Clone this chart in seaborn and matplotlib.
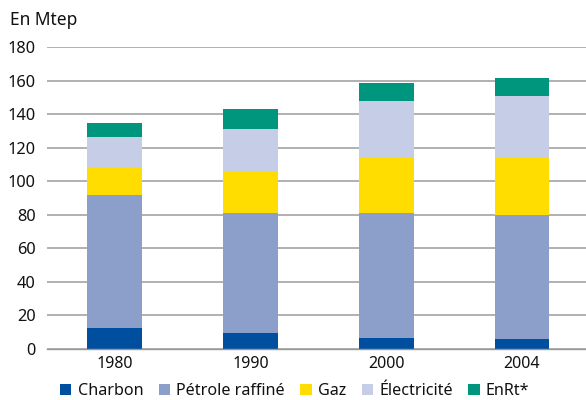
import matplotlib
matplotlib.use("Agg")
import matplotlib.pyplot as plt
import seaborn as sns
import pandas as pd
import numpy as np
from matplotlib.patches import Patch

years = ["1980", "1990", "2000", "2004"]
charbon = [12.6, 9.4, 6.6, 6.0]
petrole = [79.2, 71.6, 74.2, 73.8]
gaz = [16.0, 24.4, 33.0, 34.8]
electricite = [18.8, 25.8, 34.2, 36.4]
enrt = [8.2, 12.0, 10.8, 10.8]

series_names = ["Charbon", "Pétrole raffiné", "Gaz", "Électricité", "EnRt*"]
series_vals = [charbon, petrole, gaz, electricite, enrt]
colors = ["#004f9f", "#8c9fcb", "#ffdd00", "#c5cee6", "#00957d"]

sns.set_theme(style="white")
plt.rcParams["font.family"] = ["Noto Sans", "DejaVu Sans"]

fig = plt.figure(figsize=(5.86, 4.0), dpi=100)
ax = fig.add_axes([46.7 / 586, 1 - 349 / 400, 1 - 46.7 / 586, (349 - 47) / 400])

cum = np.cumsum(np.array(series_vals), axis=0)
for i in range(len(series_names) - 1, -1, -1):
    df = pd.DataFrame({"year": years, "value": cum[i]})
    sns.barplot(data=df, x="year", y="value", color=colors[i], width=0.405,
                saturation=1, ax=ax, zorder=3, linewidth=0)

ax.set_ylim(0, 180)
ax.set_xlim(-0.5, -0.5 + (586 - 46.7) / 135.8)
ax.set_yticks(range(0, 181, 20))
ax.yaxis.grid(True, color="#aaaaaa", linewidth=1.3, zorder=0)
ax.set_axisbelow(True)
for s in ["left", "right", "top"]:
    ax.spines[s].set_visible(False)
ax.spines["bottom"].set_color("#999999")
ax.spines["bottom"].set_linewidth(1.0)
ax.spines["bottom"].set_zorder(4)
ax.set_xlabel("")
ax.set_ylabel("")
ax.tick_params(axis="y", length=0, labelsize=11.8, pad=8, labelcolor="#111111")
ax.tick_params(axis="x", which="major", length=0, labelsize=11.5, pad=5, labelcolor="#111111")
ax.set_xticks([0.5, 1.5, 2.5], minor=True)
ax.tick_params(axis="x", which="minor", length=4, width=1, color="#999999", direction="out")

fig.text(10 / 586, 1 - 20 / 400, "En Mtep", fontsize=12.5, va="center", ha="left", color="#111111")

handles = [Patch(facecolor=c, edgecolor="none", label=n) for n, c in zip(series_names, colors)]
fig.legend(handles=handles, loc="center", bbox_to_anchor=(0.503, 1 - 391 / 400), ncol=5,
           frameon=False, fontsize=11.6, handlelength=0.7, handleheight=0.7,
           handletextpad=0.4, columnspacing=0.95, borderaxespad=0, labelcolor="#111111")

fig.savefig("out.png", dpi=100)
